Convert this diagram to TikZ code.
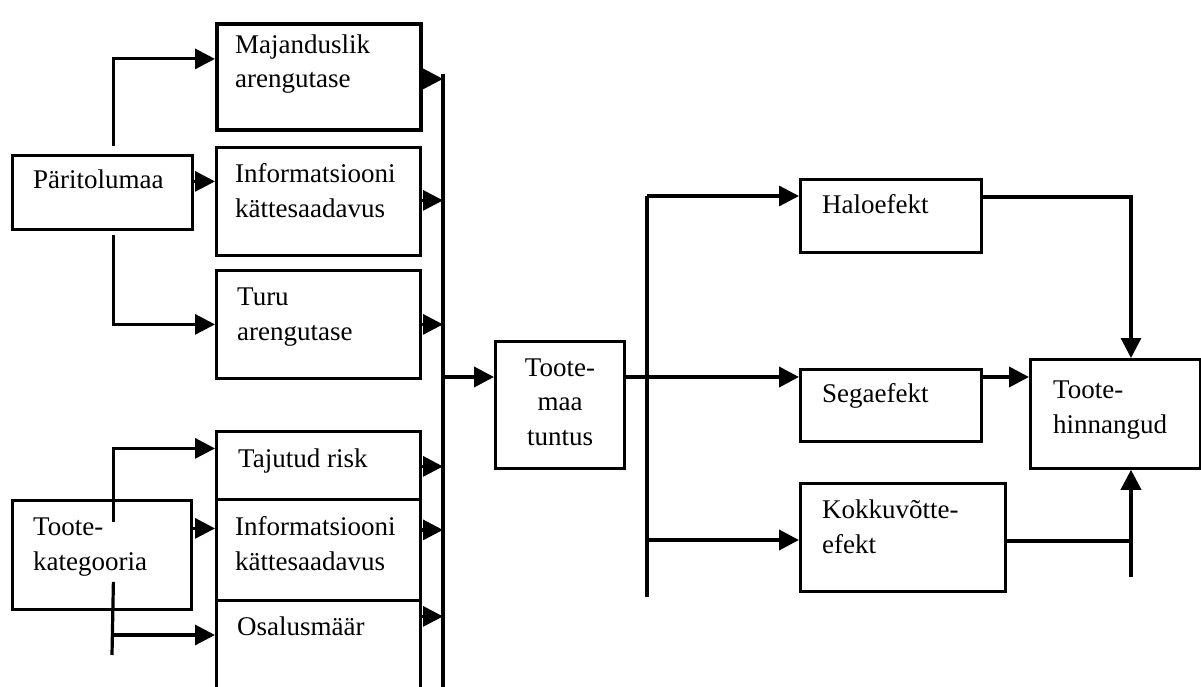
\documentclass[tikz,border=0pt]{standalone}
\usepackage{fontspec}
\setmainfont{Liberation Serif}
\usetikzlibrary{arrows.meta,positioning}

\begin{document}
\begin{tikzpicture}[x=1pt,y=-1pt]
\tikzset{
  boxnode/.style={draw,line width=2.8pt,anchor=north west,inner sep=0pt},
  boxtext/.style={anchor=base west,inner sep=0pt,align=left,font=\fontsize{27}{34.5}\selectfont},
  directed/.style={-{Triangle[length=20pt,width=20pt]},line width=3.2pt},
  plainline/.style={line width=3.2pt}
}
\useasboundingbox (0,0) rectangle (1201,687);
% left boxes
\node[boxnode,minimum width=180pt,minimum height=74pt] (paritolu) at (11,154) {};
\node[boxnode,line width=3.8pt,minimum width=204pt,minimum height=106pt] (majandus) at (215,22) {};
\node[boxnode,minimum width=204pt,minimum height=108pt] (info1) at (215,146) {};
\node[boxnode,minimum width=204pt,minimum height=108pt] (turu) at (215,269) {};
\node[boxnode,minimum width=179pt,minimum height=109pt] (kategooria) at (11,499) {};
\node[boxnode,minimum width=204pt,minimum height=68pt] (risk) at (215,430) {};
\node[boxnode,minimum width=204pt,minimum height=101pt] (info2) at (215,498) {};
\node[boxnode,minimum width=204pt,minimum height=96pt] (osalus) at (215,599) {};
% right boxes
\node[boxnode,line width=3.2pt,minimum width=129pt,minimum height=127pt] (tuntus) at (494,340) {};
\node[boxnode,minimum width=181pt,minimum height=73pt] (halo) at (799,178) {};
\node[boxnode,minimum width=181pt,minimum height=72pt] (sega) at (799,368) {};
\node[boxnode,minimum width=205pt,minimum height=108pt] (kokku) at (799,482) {};
\node[boxnode,minimum width=170pt,minimum height=109pt] (hinnang) at (1029,358) {};
% texts (base = last line)
\node[boxtext] (paritolu-t) at (33,189) {Päritolumaa};
\node[boxtext] (majandus-t) at (235,88) {Majanduslik\\arengutase};
\node[boxtext] (info1-t) at (235,217) {Informatsiooni\\kättesaadavus};
\node[boxtext] (turu-t) at (237,340) {Turu\\arengutase};
\node[boxtext] (kategooria-t) at (33,570) {Toote-\\kategooria};
\node[boxtext] (risk-t) at (238,467) {Tajutud risk};
\node[boxtext] (info2-t) at (235,570) {Informatsiooni\\kättesaadavus};
\node[boxtext] (osalus-t) at (237,635) {Osalusmäär};
\node[boxtext,anchor=base,align=center] (tuntus-t) at (560,445) {Toote-\\maa\\tuntus};
\node[boxtext] (halo-t) at (822,213) {Haloefekt};
\node[boxtext] (sega-t) at (822,402) {Segaefekt};
\node[boxtext] (kokku-t) at (822,553) {Kokkuvõtte-\\efekt};
\node[boxtext] (hinnang-t) at (1053,433) {Toote-\\hinnangud};
% bus and split lines
\coordinate (bustop) at (443,74);
\coordinate (busbot) at (443,690);
\coordinate (splittop) at (647,196);
\coordinate (splitbot) at (647,597);
\coordinate (katbot) at (112,655);
\coordinate (kokkubot) at (1131,577);
\draw[plainline,line width=4.2pt] (bustop) -- (busbot);
\draw[plainline] (splittop) -- (splitbot);
% Paritolumaa
\draw[directed] ([xshift=11pt,yshift=8pt]paritolu.north) |- ([yshift=18pt]majandus.west);
\draw[directed] ([yshift=11pt]paritolu.east) -- ([yshift=11pt]paritolu.east -| info1.west);
\draw[directed] ([xshift=11pt,yshift=-4pt]paritolu.south) |- (turu.west);
% Tootekategooria
\draw[directed] ([xshift=11.5pt,yshift=33pt]kategooria.center) |- ([yshift=17pt]risk.west);
\draw[directed] ([yshift=26.5pt]kategooria.east) -- ([yshift=26.5pt]kategooria.east -| info2.west);
\draw[plainline] ([xshift=11.5pt,yshift=-27pt]kategooria.center) -- (katbot);
\draw[directed] (katbot |- 0,635) -- (osalus.west |- 0,635);
% to the bus
\foreach \b/\dy in {majandus/-2,info1/1,turu/0,risk/-1,info2/20,osalus/32}
  \draw[directed] ([yshift=\dy pt]\b.east) -- ([yshift=\dy pt]\b.east -| bustop);
\draw[directed,line width=3.8pt] (bustop |- 0,377) -- (tuntus.west |- 0,377);
% effects
\draw[directed,line width=3.8pt] (tuntus.east |- 0,377) -- (sega.west |- 0,377);
\draw[directed] (splittop) -- (halo.west |- splittop);
\draw[directed,line width=3.8pt] (splittop |- 0,540) -- (kokku.west |- 0,540);
\draw[directed] (halo.east |- 0,197) -| (kokkubot |- hinnang.north);
\draw[directed,line width=3.8pt] (sega.east |- 0,377) -- (hinnang.west |- 0,377);
\draw[plainline] (kokku.east |- 0,541) -- (kokkubot |- 0,541);
\draw[directed,line width=3.8pt] (kokkubot) -- (kokkubot |- hinnang.south);
\end{tikzpicture}
\end{document}
